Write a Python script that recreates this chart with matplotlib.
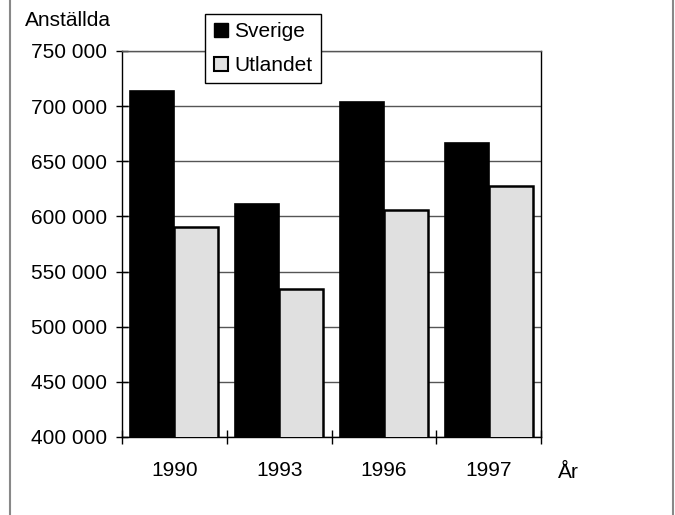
import matplotlib.pyplot as plt
import numpy as np
from matplotlib.lines import Line2D
from matplotlib.ticker import FuncFormatter

plt.rcParams["font.family"] = ["Liberation Sans", "DejaVu Sans"]

years = ["1990", "1993", "1996", "1997"]
sverige = [713700, 611300, 703700, 666600]
utlandet = [590400, 534200, 605800, 627600]

fs = 15

fig = plt.figure(figsize=(6.75, 5.15), dpi=100)
ax = fig.add_axes([122 / 675, 1 - 437 / 515, (541 - 122) / 675, (437 - 51) / 515])

x = np.arange(len(years))
w = 0.42
ax.bar(x - w / 2, sverige, w, color="black", edgecolor="black", linewidth=1.2,
       label="Sverige", zorder=3)
ax.bar(x + w / 2, utlandet, w, color="#e0e0e0", edgecolor="black", linewidth=1.8,
       label="Utlandet", zorder=3)

ax.set_xlim(-0.5, len(years) - 0.5)
ax.set_ylim(400000, 750000)
ax.set_yticks(np.arange(400000, 750001, 50000))
ax.yaxis.set_major_formatter(FuncFormatter(lambda v, p: f"{int(v):,}".replace(",", " ")))
ax.grid(axis="y", color="#555555", linewidth=1.0, zorder=0)

ax.set_xticks(x)
ax.set_xticklabels(years)
ax.set_xticks(np.arange(-0.5, len(years)), minor=True)
ax.tick_params(axis="x", which="major", length=0, pad=17, labelsize=fs)
ax.tick_params(axis="x", which="minor", length=10, width=1, direction="inout")
ax.tick_params(axis="y", length=8, width=1, direction="inout", labelsize=fs, pad=7)

for s in ax.spines.values():
    s.set_linewidth(1.0)
    s.set_color("black")
ax.spines["top"].set_color("#555555")

fig.text(25 / 675, 1 - 20 / 515, "Anställda", fontsize=fs, va="center", ha="left")
fig.text(558 / 675, 1 - 473 / 515, "År", fontsize=fs, va="center", ha="left")

handles = [
    Line2D([], [], marker="s", color="none", markerfacecolor="black",
           markeredgecolor="black", markersize=10),
    Line2D([], [], marker="s", color="none", markerfacecolor="#e0e0e0",
           markeredgecolor="black", markeredgewidth=1.5, markersize=10),
]
leg = fig.legend(handles, ["Sverige", "Utlandet"], loc="upper left",
                 bbox_to_anchor=(205 / 675, 1 - 14 / 515), fontsize=fs,
                 frameon=True, fancybox=False, edgecolor="black", framealpha=1,
                 handlelength=0.7, handletextpad=0.3, borderpad=0.4,
                 labelspacing=0.7, borderaxespad=0)
leg.get_frame().set_linewidth(1.0)
leg.set_zorder(10)

fig.add_artist(Line2D([9.5 / 675, 9.5 / 675], [0, 1], color="#888888", linewidth=1.5))
fig.add_artist(Line2D([672.5 / 675, 672.5 / 675], [0, 1], color="#888888", linewidth=1.5))

fig.savefig("out.png", dpi=100)
